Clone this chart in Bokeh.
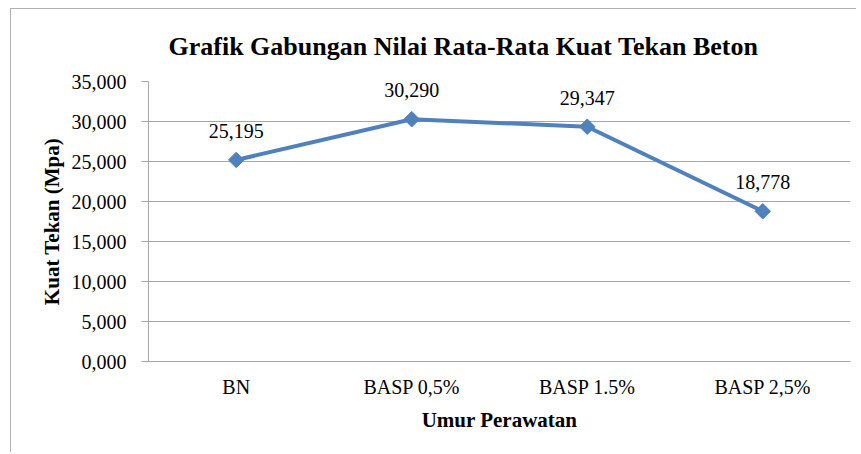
import math
from bokeh.plotting import figure
from bokeh.models import FixedTicker, ColumnDataSource, Range1d
from bokeh.core.properties import value
from bokeh.embed import file_html
from bokeh.resources import INLINE

categories = ["BN", "BASP 0,5%", "BASP 1.5%", "BASP 2,5%"]
kuat_tekan = [25.195, 30.290, 29.347, 18.778]
value_labels = ["25,195", "30,290", "29,347", "18,778"]
y_ticks = [0, 5, 10, 15, 20, 25, 30, 35]
y_tick_labels = ["0,000", "5,000", "10,000", "15,000", "20,000", "25,000", "30,000", "35,000"]

FONT = "'Liberation Serif', 'Times New Roman', serif"
GRID = "#a6a6a6"
BLUE = "#4f81bd"

src = ColumnDataSource(dict(x=categories, y=kuat_tekan, lab=value_labels))

p = figure(x_range=categories, y_range=Range1d(0, 35), width=846, height=444,
           output_backend="svg", toolbar_location=None,
           min_border_left=137, min_border_right=7, min_border_top=72, min_border_bottom=92)

p.title.text = "Grafik Gabungan Nilai Rata-Rata Kuat Tekan Beton"
p.title.text_font = FONT
p.title.text_font_size = "26px"
p.title.text_font_style = "bold"
p.title.text_color = "#000000"
p.title.align = "left"
p.title.offset = 20
p.title.standoff = 41

p.outline_line_color = None
p.background_fill_color = "white"
p.border_fill_color = "white"
p.styles = {"border-left": "1px solid #b0b0b0", "border-top": "1px solid #b0b0b0",
            "margin-left": "10px", "margin-top": "8px"}

p.xgrid.grid_line_color = None
p.ygrid.grid_line_color = GRID
p.ygrid.grid_line_width = 1

p.yaxis.ticker = FixedTicker(ticks=y_ticks)
p.yaxis.major_label_overrides = {t: l for t, l in zip(y_ticks, y_tick_labels)}
p.yaxis.axis_line_color = GRID
p.yaxis.major_tick_line_color = GRID
p.yaxis.major_tick_out = 7
p.yaxis.major_tick_in = 0
p.yaxis.minor_tick_line_color = None
p.yaxis.major_label_standoff = 15
p.yaxis.major_label_text_font = FONT
p.yaxis.major_label_text_font_size = "20px"
p.yaxis.major_label_text_color = "#000000"
p.yaxis.axis_label = "Kuat Tekan (Mpa)"
p.yaxis.axis_label_text_font = FONT
p.yaxis.axis_label_text_font_size = "21px"
p.yaxis.axis_label_text_font_style = "bold"
p.yaxis.axis_label_text_color = "#000000"
p.yaxis.axis_label_standoff = 5

p.xaxis.axis_line_color = GRID
p.xaxis.major_tick_line_color = None
p.xaxis.major_tick_out = 0
p.xaxis.major_tick_in = 0
p.xaxis.minor_tick_line_color = None
p.xaxis.major_label_standoff = 14
p.xaxis.major_label_text_font = FONT
p.xaxis.major_label_text_font_size = "20px"
p.xaxis.major_label_text_color = "#000000"
p.xaxis.axis_label = "Umur Perawatan"
p.xaxis.axis_label_text_font = FONT
p.xaxis.axis_label_text_font_size = "21px"
p.xaxis.axis_label_text_font_style = "bold"
p.xaxis.axis_label_text_color = "#000000"
p.xaxis.axis_label_standoff = 7

p.line("x", "y", source=src, line_color=BLUE, line_width=4)
p.scatter("x", "y", source=src, marker="square", size=11, angle=math.pi / 4,
          fill_color=BLUE, line_color=BLUE)
p.text("x", "y", text="lab", source=src, y_offset=-29, text_align="center",
       text_baseline="middle", text_font=value(FONT), text_font_size="20px", text_color="#000000")

open("out.html", "w").write(file_html(p, INLINE))
